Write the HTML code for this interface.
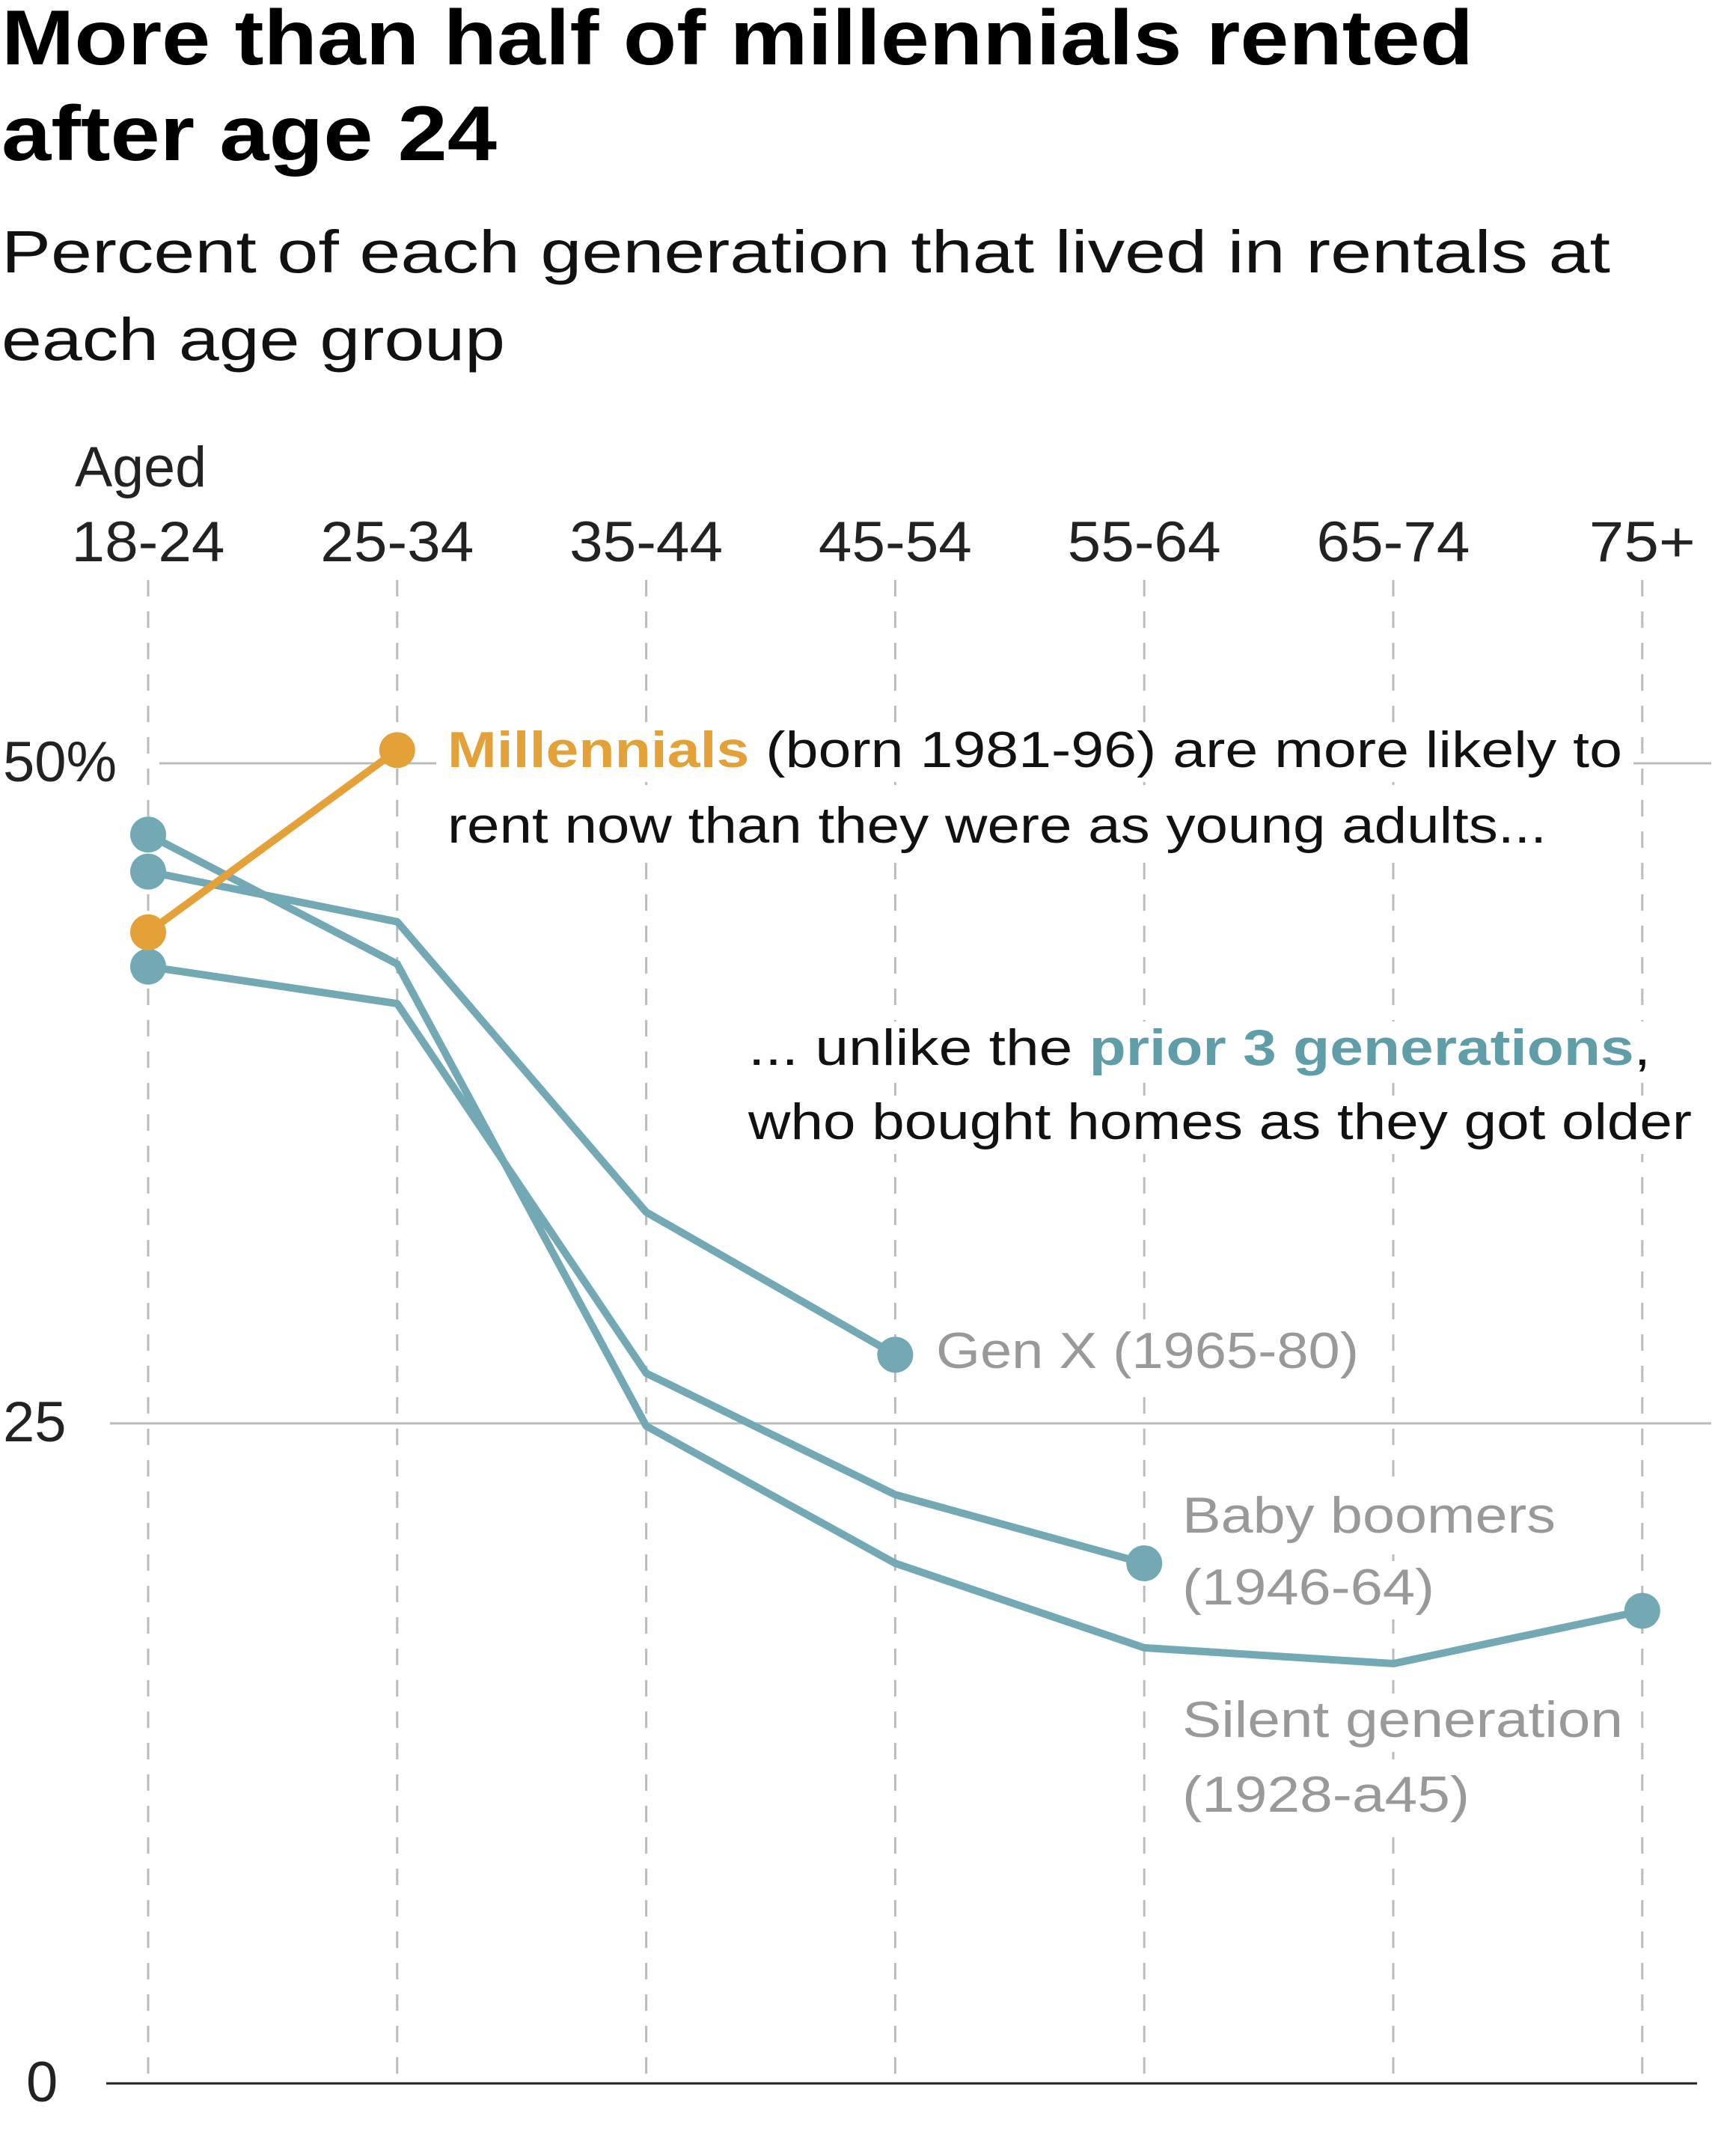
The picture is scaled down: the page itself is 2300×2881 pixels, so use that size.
<!DOCTYPE html>
<html><head><meta charset="utf-8"><style>
html,body{margin:0;padding:0;background:#fff;}
svg{display:block;font-family:"Liberation Sans",sans-serif;}
</style></head><body>
<svg id="chart" width="2300" height="2881" viewBox="0 0 2300 2881">
<text x="2" y="86" font-size="104" font-weight="bold" fill="#000" textLength="1967" lengthAdjust="spacingAndGlyphs">More than half of millennials rented</text>
<text x="2" y="214" font-size="104" font-weight="bold" fill="#000" textLength="662" lengthAdjust="spacingAndGlyphs">after age 24</text>
<text x="2" y="364" font-size="80" fill="#111" textLength="2150" lengthAdjust="spacingAndGlyphs">Percent of each generation that lived in rentals at</text>
<text x="2" y="481" font-size="80" fill="#111" textLength="673" lengthAdjust="spacingAndGlyphs">each age group</text>
<g id="grid"></g>
<g id="xlabels"></g>
<g id="series"></g>
<g id="annot"></g>
</svg>
<script>
const categories = ["18-24","25-34","35-44","45-54","55-64","65-74","75+"];
const yTicks = [0,25,50];
const yTickLabels = ["0","25","50%"];
const millennials = [43.6,50.5];
const genX = [45.9,44.0,33.0,27.6];
const boomers = [42.3,40.9,26.9,22.3,19.7];
const silent = [47.3,42.4,24.9,19.7,16.5,15.9,17.9];

const NS="http://www.w3.org/2000/svg";
const X0=198, XSTEP=332.8, Y0=2784, PPU=35.28;
function xs(i){return X0+i*XSTEP;}
function ys(v){return Y0-v*PPU;}
function mk(tag,attrs,parent){const e=document.createElementNS(NS,tag);for(const k in attrs)e.setAttribute(k,attrs[k]);parent.appendChild(e);return e;}
const grid=document.getElementById('grid'), xl=document.getElementById('xlabels'), ser=document.getElementById('series'), an=document.getElementById('annot');

categories.forEach((c,i)=>{
  const l=mk('line',{x1:xs(i),x2:xs(i),y1:775,y2:2772,stroke:'#bbb','stroke-width':3,'stroke-dasharray':'22 20'},grid);
  
  
  const t=mk('text',{x:xs(i),y:750,'font-size':76,fill:'#222','text-anchor':'middle',textLength:c.length>3?205:142,lengthAdjust:'spacingAndGlyphs'},xl);
  t.textContent=c;
  
  
});
const aged=mk('text',{x:100,y:650,'font-size':76,fill:'#222',textLength:176,lengthAdjust:'spacingAndGlyphs'},xl);
aged.textContent='Aged';



yTicks.forEach((v,i)=>{
  const zero=v===0;
  const g=mk('line',{x1:zero?142:(v===50?213:147),x2:zero?2268:2287,y1:ys(v),y2:ys(v),stroke:zero?'#222':'#bbb','stroke-width':3},grid);
  
  
  const t=mk('text',{x:zero?35:4,y:ys(v)+24,'font-size':76,fill:'#222'},xl);
  t.textContent=yTickLabels[i];
  
  
});

function drawSeries(vals,color,name,dotIdx){
  const pts=vals.map((v,i)=>xs(i)+','+ys(v)).join(' ');
  const p=mk('polyline',{points:pts,fill:'none',stroke:color,'stroke-width':10,'stroke-linejoin':'round'},ser);
  
  
  dotIdx.forEach(i=>{
    const c=mk('circle',{cx:xs(i),cy:ys(vals[i]),r:24,fill:color},ser);
    
    
  });
}
const TEAL='#72a9b4', ORANGE='#e3a137';
drawSeries(silent,TEAL,'silent-generation',[0,silent.length-1]);
drawSeries(boomers,TEAL,'baby-boomers',[0,boomers.length-1]);
drawSeries(genX,TEAL,'gen-x',[0,genX.length-1]);
drawSeries(millennials,ORANGE,'millennials',[0,1]);

function label(x,y,len,html,color,name){
  const r=mk('rect',{x:x-15,y:y-58,width:len+30,height:78,fill:'#fff'},an);
  
  
  const t=mk('text',{x:x,y:y,'font-size':68,fill:color,textLength:len,lengthAdjust:'spacingAndGlyphs'},an);
  t.innerHTML=html;
  
  
}
label(598,1025,1570,'<tspan font-weight="bold" fill="#e3a137">Millennials</tspan> (born 1981-96) are more likely to','#111','millennials-annotation-line-1');
label(598,1126,1469,'rent now than they were as young adults...','#111','millennials-annotation-line-2');
label(1000,1423,1206,'... unlike the <tspan font-weight="bold" fill="#5f9ea9">prior 3 generations</tspan>,','#111','prior-generations-annotation-line-1');
label(1000,1522,1261,'who bought homes as they got older','#111','prior-generations-annotation-line-2');
label(1251,1828,565,'Gen X (1965-80)','#999','gen-x-label');
label(1580,2048,499,'Baby boomers','#999','baby-boomers-label-line-1');
label(1580,2144,337,'(1946-64)','#999','baby-boomers-label-line-2');
label(1580,2321,589,'Silent generation','#999','silent-generation-label-line-1');
label(1580,2421,384,'(1928-a45)','#999','silent-generation-label-line-2');
</script>
</body></html>
